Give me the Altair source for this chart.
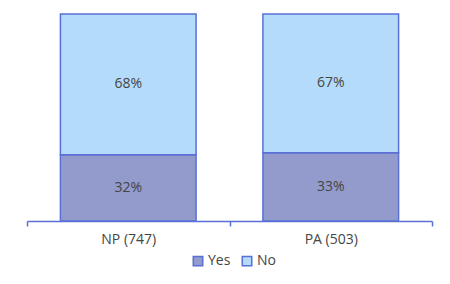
import altair as alt
import pandas as pd

categories = ["NP (747)", "PA (503)"]
responses = ["Yes", "No"]
yes_values = [32, 33]
no_values = [68, 67]

rows = []
for c, y, n in zip(categories, yes_values, no_values):
    rows.append({"cat": c, "resp": "Yes", "value": y, "ord": 0})
    rows.append({"cat": c, "resp": "No", "value": n, "ord": 1})
df = pd.DataFrame(rows)

FONT = "Open Sans"
STROKE = "#5A70D6"
TXT = "#454545"

base = alt.Chart(df).transform_stack(
    stack="value", groupby=["cat"], sort=[alt.SortField("ord", order="ascending")], as_=["y0", "y1"]
).transform_calculate(mid="(datum.y0 + datum.y1) / 2", label="datum.value + '%'")

x_enc = alt.X("cat:N", sort=categories, title=None,
              scale=alt.Scale(paddingInner=0, paddingOuter=0),
              axis=alt.Axis(labelAngle=0, domainColor=STROKE, tickColor=STROKE, tickBand="extent",
                            tickSize=5, tickWidth=1.5, labelPadding=6, labelFont=FONT, labelFontSize=14,
                            labelColor=TXT, domainWidth=1.5))

bars = base.mark_bar(stroke=STROKE, strokeWidth=1.5, width=alt.RelativeBandSize(0.67)).encode(
    x=x_enc,
    y=alt.Y("y0:Q", scale=alt.Scale(domain=[0, 100]), axis=None),
    y2="y1:Q",
    color=alt.Color("resp:N", sort=responses,
                    scale=alt.Scale(domain=responses, range=["#929BCB", "#B4DBF9"]),
                    legend=alt.Legend(title=None, orient="none", legendX=164, legendY=240,
                                      direction="horizontal", symbolType="square", symbolSize=90,
                                      symbolStrokeColor=STROKE, symbolStrokeWidth=1.5,
                                      labelFont=FONT, labelFontSize=14, labelColor=TXT,
                                      columnPadding=8, labelOffset=3, symbolOpacity=1)),
)

texts = base.mark_text(font=FONT, fontSize=14, color=TXT).encode(
    x=alt.X("cat:N", sort=categories),
    y=alt.Y("mid:Q"),
    text="label:N",
)

chart = alt.layer(bars, texts).properties(
    width=405, height=207,
    padding={"left": 27, "top": 14, "right": 18, "bottom": 63},
    autosize=alt.AutoSizeParams(type="none"),
    background="white",
).configure_view(stroke=None)

chart.save("out.html", embed_options={"renderer": "svg", "actions": False})
